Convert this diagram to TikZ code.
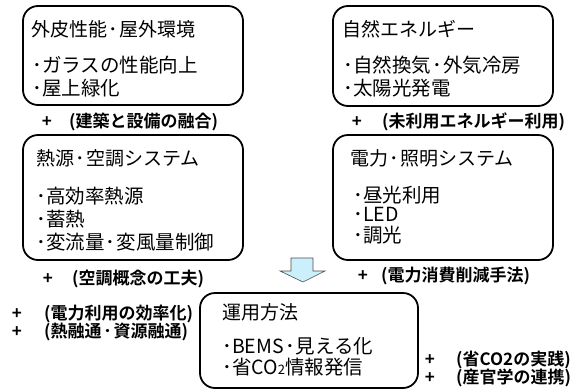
\documentclass[tikz,border=0pt]{standalone}
\usepackage{fontspec}
\setmainfont{Noto Sans CJK JP}
\newfontfamily\jpbold{Noto Sans CJK JP Bold}
\newcommand\mdot{\makebox[12pt]{･}}
\newcommand\bdot{\makebox[10pt][l]{･}}
\begin{document}
\begin{tikzpicture}[x=1pt,y=-1pt,
  box/.style={draw=black,line width=1.8pt,rounded corners=15pt,inner sep=0pt},
  ttl/.style={anchor=base west,inner sep=0pt,font=\fontsize{19}{20}\selectfont},
  txt/.style={anchor=base west,inner sep=0pt,font=\fontsize{19.5}{20}\selectfont},
  lbl/.style={anchor=base west,inner sep=0pt,font=\jpbold\fontsize{17}{18}\selectfont},
  plus/.style={anchor=base,inner sep=0pt,font=\jpbold\fontsize{17}{18}\selectfont},
  arrowfill/.style={fill=cyan!20,draw=black!70,line width=0.6pt}]
\useasboundingbox (0,0) rectangle (582,389);
% boxes
\node[box,minimum width=220pt,minimum height=99pt] (b1) at (133,55.5) {};
\node[box,minimum width=220pt,minimum height=100pt] (b2) at (443,56) {};
\node[box,minimum width=220pt,minimum height=125pt] (b3) at (133,197.5) {};
\node[box,minimum width=220pt,minimum height=125pt] (b4) at (443,197.5) {};
\node[box,minimum width=218pt,minimum height=95pt] (b5) at (309,340.5) {};
% box 1
\node[ttl] (t1) at (31,36) {外皮性能\mdot 屋外環境};
\node[txt] (t1a) at (32,72) {\bdot ガラスの性能向上};
\node[txt] (t1b) at (32,95) {\bdot 屋上緑化};
% box 2
\node[ttl] (t2) at (342,36) {自然エネルギー};
\node[txt] (t2a) at (343,72) {\bdot 自然換気\mdot 外気冷房};
\node[txt] (t2b) at (343,95) {\bdot 太陽光発電};
% box 3
\node[ttl] (t3) at (36,165) {熱源\mdot 空調システム};
\node[txt] (t3a) at (36,203) {\bdot 高効率熱源};
\node[txt] (t3b) at (36,226) {\bdot 蓄熱};
\node[txt] (t3c) at (36,249) {\bdot 変流量\mdot 変風量制御};
% box 4
\node[ttl] (t4) at (350,165) {電力\mdot 照明システム};
\node[txt] (t4a) at (353,202) {\bdot 昼光利用};
\node[txt] (t4b) at (353,221) {\bdot LED};
\node[txt] (t4c) at (353,242) {\bdot 調光};
% box 5
\node[ttl] (t5) at (222,319) {運用方法};
\node[txt] (t5a) at (222,353) {\bdot BEMS\mdot 見える化};
\node[txt] (t5b) at (222,374) {\bdot 省CO{\fontsize{13}{14}\selectfont 2}情報発信};
% labels
\node[plus] (p1) at (47,127) {+};
\node[lbl] (l1) at (69,127) {(建築と設備の融合)};
\node[plus] (p2) at (357,127) {+};
\node[lbl] (l2) at (382,127) {(未利用エネルギー利用)};
\node[plus] (p3) at (48,284) {+};
\node[lbl] (l3) at (72,284) {(空調概念の工夫)};
\node[plus] (p4) at (363,281) {+};
\node[lbl] (l4) at (381,281) {(電力消費削減手法)};
\node[plus] (p5) at (17,319) {+};
\node[lbl] (l5) at (44,319) {(電力利用の効率化)};
\node[plus] (p6) at (17,337) {+};
\node[lbl] (l6) at (44,337) {(熱融通\mdot 資源融通)};
\node[plus] (p7) at (430,365) {+};
\node[lbl] (l7) at (456,365) {(省CO2の実践)};
\node[plus] (p8) at (430,383) {+};
\node[lbl] (l8) at (456,383) {(産官学の連携)};
% arrow
\draw[arrowfill] (291,258) -- (313,258) -- (313,271) -- (325,271) -- (303,282) -- (280,271) -- (291,271) -- cycle;
\end{tikzpicture}
\end{document}
